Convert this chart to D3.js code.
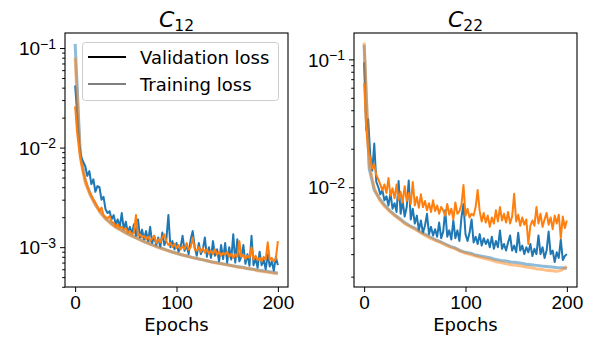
<!DOCTYPE html>
<html>
<head>
<meta charset="utf-8">
<script src="https://cdn.jsdelivr.net/npm/d3@7"></script>
<style>
  body { margin: 0; background: #fff; }
  svg { display: block; font-family: "DejaVu Sans", sans-serif; }
  .tick text { font-size: 19px; fill: #000; }
  .domain { display: none; }
</style>
</head>
<body>
<div id="chart"></div>
<script>
// epochs (validation sampled every 2, training every 5)
const valEpochs = d3.range(0, 201, 2);
const trainEpochs = d3.range(0, 201, 5);
const xTicks = [0, 100, 200];
const lossUnit = 1e-3; // all losses below are in units of 1e-3

// C12 panel
const c12ValBlue = [
  42, 22, 11, 8.0, 7.2, 6.5, 5.2, 5.8, 4.3, 4.8,
  3.6, 4.1, 4.0, 3.0, 3.2, 2.4, 2.2, 2.3, 1.9, 2.1,
  1.7, 1.9, 1.6, 2.2, 1.5, 1.8, 1.4, 1.6, 1.35, 1.7,
  1.3, 1.9, 1.25, 1.5, 1.2, 1.45, 1.15, 1.6, 1.1, 1.3,
  1.05, 1.25, 1.0, 1.4, 1.05, 1.2, 2.1, 1.0, 1.15, 0.95,
  1.1, 0.9, 1.0, 1.3, 0.92, 1.05, 0.85, 1.2, 1.45, 1.0,
  0.82, 1.1, 0.85, 0.95, 1.25, 0.8, 1.0, 0.78, 1.15, 0.82,
  0.95, 0.72, 1.05, 0.76, 1.1, 0.7, 1.0, 0.75, 1.35, 0.7,
  1.2, 0.72, 0.8, 1.05, 0.68, 0.85, 0.65, 1.3, 0.66, 0.78,
  0.62, 0.9, 0.66, 0.75, 0.6, 0.85, 0.64, 0.72, 0.58, 0.8,
  0.66
];
const c12ValOrange = [
  26, 14, 9.5, 7.0, 5.6, 4.8, 4.1, 3.6, 3.3, 3.0,
  2.8, 2.55, 2.3, 2.5, 2.1, 2.0, 1.95, 2.05, 1.8, 1.75,
  1.6, 1.7, 1.55, 1.6, 1.5, 1.55, 1.4, 1.45, 1.35, 1.4,
  2.1, 1.3, 1.35, 1.25, 1.3, 1.2, 1.28, 1.15, 1.22, 1.3,
  1.1, 1.2, 1.12, 1.25, 1.35, 1.15, 1.05, 1.1, 1.0, 1.08,
  0.98, 1.05, 0.95, 1.02, 0.96, 1.1, 0.94, 1.0, 1.25, 0.95,
  0.92, 1.0, 0.9, 0.98, 0.88, 0.95, 0.86, 0.92, 0.85, 0.95,
  0.84, 0.9, 0.82, 0.88, 0.84, 0.9, 0.8, 0.86, 0.78, 0.85,
  0.8, 1.15, 0.8, 0.84, 0.76, 0.82, 0.78, 1.0, 0.75, 0.82,
  0.74, 0.78, 0.72, 0.8, 0.75, 1.12, 0.74, 0.78, 0.72, 0.76,
  1.15
];
const c12TrainBlue = [
  110, 9.0, 4.7, 3.4, 2.7, 2.25, 1.95, 1.75, 1.6, 1.5,
  1.4, 1.32, 1.25, 1.18, 1.12, 1.07, 1.02, 0.98, 0.94, 0.9,
  0.87, 0.84, 0.82, 0.79, 0.77, 0.75, 0.73, 0.71, 0.7, 0.68,
  0.67, 0.65, 0.64, 0.63, 0.61, 0.6, 0.59, 0.58, 0.57, 0.56,
  0.55
];
const c12TrainOrange = [
  80, 8.0, 4.4, 3.3, 2.65, 2.2, 1.92, 1.73, 1.58, 1.48,
  1.38, 1.3, 1.24, 1.17, 1.11, 1.06, 1.01, 0.97, 0.93, 0.9,
  0.87, 0.84, 0.81, 0.79, 0.77, 0.75, 0.73, 0.71, 0.69, 0.68,
  0.66, 0.65, 0.63, 0.62, 0.61, 0.6, 0.58, 0.57, 0.56, 0.55,
  0.54
];

// C22 panel
const c22ValBlue = [
  95, 28, 34, 18, 13.5, 22, 11, 10, 8.8, 9.5,
  7.9, 8.5, 7.2, 9.0, 6.8, 7.5, 6.4, 11.2, 6.2, 7.8,
  5.9, 7.0, 11.3, 5.6, 6.8, 5.2, 6.0, 4.6, 5.5, 4.4,
  5.0, 6.2, 4.3, 4.9, 4.2, 4.7, 4.1, 5.3, 4.0, 4.5,
  6.6, 4.1, 4.6, 3.9, 5.5, 4.0, 4.6, 3.8, 5.8, 7.4,
  4.3, 3.8, 4.4, 5.6, 3.7, 4.1, 3.6, 4.3, 3.5, 4.0,
  3.6, 3.9, 3.4, 4.1, 3.3, 3.8, 3.4, 4.6, 3.3, 3.6,
  3.2, 3.7, 4.2, 3.2, 3.5, 3.1, 4.4, 3.2, 3.5, 3.0,
  3.4, 3.1, 3.6, 2.9, 3.3, 3.0, 4.2, 3.0, 3.4, 2.8,
  3.2, 4.5, 3.0, 3.2, 2.6, 3.1, 2.8, 3.9, 2.7, 2.9,
  3.0
];
const c22ValOrange = [
  65, 30, 19, 17, 14, 15, 12.5, 11.5, 10.5, 9.5,
  10.5, 9.0, 11.8, 8.6, 9.8, 8.2, 10.5, 8.0, 9.2, 7.6,
  10.2, 7.8, 9.0, 7.4, 11.0, 7.2, 8.4, 6.9, 8.8, 7.0,
  7.8, 6.6, 7.5, 6.4, 7.9, 6.5, 7.2, 6.2, 7.0, 6.6,
  6.0, 7.4, 6.1, 6.8, 5.6, 7.6, 6.2, 6.5, 7.3, 10.4,
  6.0, 6.8, 5.8, 6.2, 6.0, 7.0, 9.5, 6.5, 5.4, 6.3,
  5.3, 6.0, 4.9, 5.8, 5.2, 6.6, 5.4, 7.0, 5.5, 6.2,
  5.3, 6.4, 5.2, 5.9, 8.9, 5.4, 6.1, 5.0, 5.8, 5.1,
  5.6, 3.6, 5.0, 5.5, 5.0, 7.0, 5.2, 6.2, 4.9, 5.6,
  6.3, 5.1, 5.8, 4.7, 6.0, 5.2, 6.1, 4.0, 5.9, 4.8,
  5.5
];
const c22TrainBlue = [
  130, 14, 9.5, 8.2, 7.3, 6.6, 6.1, 5.7, 5.3, 5.0,
  4.8, 4.5, 4.3, 4.1, 3.9, 3.75, 3.6, 3.45, 3.35, 3.2,
  3.1, 3.05, 2.95, 2.9, 2.85, 2.8, 2.72, 2.68, 2.65, 2.6,
  2.58, 2.55, 2.5, 2.48, 2.45, 2.42, 2.4, 2.38, 2.36, 2.35,
  2.33
];
const c22TrainOrange = [
  135, 15, 9.8, 8.0, 7.1, 6.5, 6.0, 5.6, 5.2, 4.95,
  4.7, 4.45, 4.2, 4.0, 3.85, 3.7, 3.55, 3.4, 3.3, 3.15,
  3.05, 2.98, 2.9, 2.82, 2.76, 2.7, 2.62, 2.58, 2.52, 2.48,
  2.45, 2.42, 2.38, 2.35, 2.3, 2.28, 2.24, 2.22, 2.2, 2.25,
  2.4
];

const legendLabels = ["Validation loss", "Training loss"];
const blue = "#1f77b4", orange = "#ff7f0e";

const svg = d3.select("#chart").append("svg")
  .attr("width", 594)
  .attr("height", 337);

class LossPanel {
  constructor(_config) {
    this.config = _config;
    this.initVis();
  }

  initVis() {
    const vis = this;
    const c = vis.config;

    vis.xScale = d3.scaleLinear().domain([-10, 210]).range([c.left, c.right]);
    vis.yScale = d3.scaleLog().domain(c.yDomain).range([c.bottom, c.top]);

    vis.g = svg.append("g");

    const clipId = "clip-" + c.id;
    vis.g.append("clipPath").attr("id", clipId)
      .append("rect")
      .attr("x", c.left).attr("y", c.top)
      .attr("width", c.right - c.left).attr("height", c.bottom - c.top);

    const line = (xs) => d3.line()
      .x((d, i) => vis.xScale(xs[i]))
      .y(d => vis.yScale(d * lossUnit));

    const lines = vis.g.append("g").attr("clip-path", `url(#${clipId})`);
    const series = [
      { data: c.valBlue, xs: valEpochs, color: blue, op: 1, w: 2 },
      { data: c.trainBlue, xs: trainEpochs, color: blue, op: 0.5, w: 3 },
      { data: c.valOrange, xs: valEpochs, color: orange, op: 1, w: 2 },
      { data: c.trainOrange, xs: trainEpochs, color: orange, op: 0.5, w: 3 }
    ];
    series.forEach(s => {
      lines.append("path")
        .attr("d", line(s.xs)(s.data))
        .attr("fill", "none")
        .attr("stroke", s.color)
        .attr("stroke-opacity", s.op)
        .attr("stroke-width", s.w)
        .attr("stroke-linejoin", "round");
    });

    // axes
    vis.g.append("g")
      .attr("transform", `translate(0,${c.bottom})`)
      .call(d3.axisBottom(vis.xScale).tickValues(xTicks).tickSize(5).tickPadding(3.5));

    const [lo, hi] = c.yDomain;
    const decades = d3.range(Math.ceil(Math.log10(lo)), Math.floor(Math.log10(hi)) + 1);
    const minors = [];
    d3.range(Math.floor(Math.log10(lo)), Math.ceil(Math.log10(hi))).forEach(k => {
      for (let m = 2; m <= 9; m++) {
        const v = m * Math.pow(10, k);
        if (v >= lo && v <= hi) minors.push(v);
      }
    });

    vis.g.append("g")
      .attr("transform", `translate(${c.left},0)`)
      .call(d3.axisLeft(vis.yScale).tickValues(minors).tickSize(2.8).tickFormat(""));

    const yAxis = vis.g.append("g")
      .attr("transform", `translate(${c.left},0)`)
      .call(d3.axisLeft(vis.yScale)
        .tickValues(decades.map(k => Math.pow(10, k)))
        .tickSize(5).tickPadding(4).tickFormat(""));

    yAxis.selectAll(".tick text").each(function(d) {
      const t = d3.select(this).attr("dy", "0.35em");
      t.append("tspan").text("10");
      t.append("tspan")
        .attr("dy", "-0.45em")
        .attr("font-size", "14px")
        .text("\u2212" + (-Math.round(Math.log10(d))));
    });

    vis.g.selectAll(".tick line").attr("stroke", "#000").attr("stroke-width", 1);

    // frame
    vis.g.append("rect")
      .attr("x", c.left).attr("y", c.top)
      .attr("width", c.right - c.left).attr("height", c.bottom - c.top)
      .attr("fill", "none").attr("stroke", "#000").attr("stroke-width", 1.1);

    // title
    const title = vis.g.append("text")
      .attr("x", (c.left + c.right) / 2)
      .attr("y", 27)
      .attr("text-anchor", "middle")
      .attr("font-size", 22);
    title.append("tspan").attr("font-style", "italic").text("C");
    title.append("tspan").attr("dy", 4).attr("font-size", 15.5).text(c.sub);

    vis.g.append("text")
      .attr("x", (c.left + c.right) / 2)
      .attr("y", 331)
      .attr("text-anchor", "middle")
      .attr("font-size", 18)
      .text("Epochs");
  }
}

new LossPanel({
  id: "c12", sub: "12", left: 65, right: 288, top: 33, bottom: 287,
  yDomain: [3.98e-4, 0.1416],
  valBlue: c12ValBlue, valOrange: c12ValOrange,
  trainBlue: c12TrainBlue, trainOrange: c12TrainOrange
});

new LossPanel({
  id: "c22", sub: "22", left: 354, right: 577, top: 33, bottom: 287,
  yDomain: [1.66e-3, 0.1607],
  valBlue: c22ValBlue, valOrange: c22ValOrange,
  trainBlue: c22TrainBlue, trainOrange: c22TrainOrange
});

// legend
const legend = svg.append("g");
legend.append("rect")
  .attr("x", 82.5).attr("y", 42.5)
  .attr("width", 196).attr("height", 58)
  .attr("rx", 3)
  .attr("fill", "#fff").attr("fill-opacity", 0.8)
  .attr("stroke", "#cccccc").attr("stroke-width", 1);
legendLabels.forEach((lab, i) => {
  const y = 57 + i * 27;
  legend.append("line")
    .attr("x1", 88).attr("x2", 126)
    .attr("y1", y).attr("y2", y)
    .attr("stroke", "#000")
    .attr("stroke-opacity", i === 0 ? 1 : 0.5)
    .attr("stroke-width", 2);
  legend.append("text")
    .attr("x", 140).attr("y", y + 6.5)
    .attr("font-size", 18)
    .text(lab);
});
</script>
</body>
</html>
